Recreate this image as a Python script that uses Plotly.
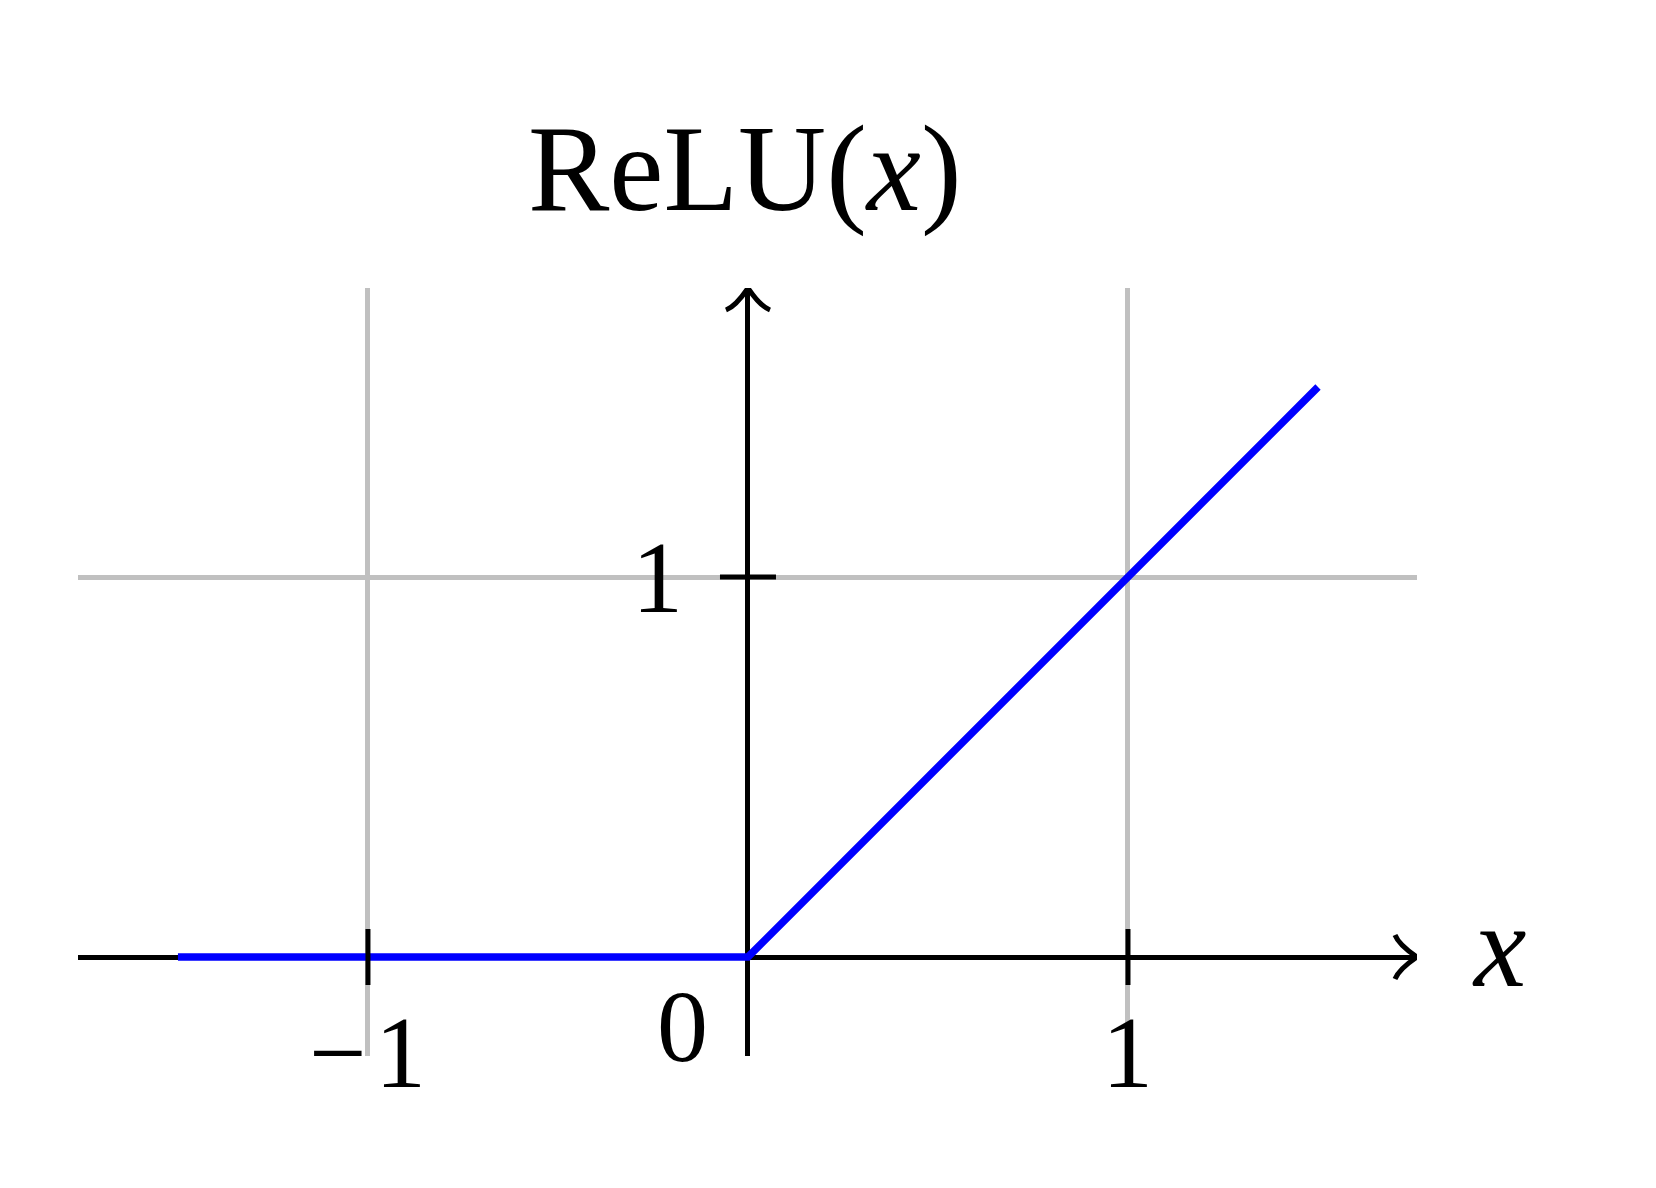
import plotly.graph_objects as go

# data
x_vals = [-1.5, 0.0, 1.5]
relu_vals = [0.0, 0.0, 1.5]
x_ticks = [-1, 1]
x_tick_labels = ["−\u200a1", "1"]
y_ticks = [1]
y_tick_labels = ["1"]

W, H = 1656, 1188
ML, MR, MT, MB = 70, 247, 280, 140
XR = [-1.763, 1.7605]
YR = [-0.2605, 1.7605]
px_x = (W - ML - MR) / (XR[1] - XR[0])
px_y = (H - MT - MB) / (YR[1] - YR[0])

FONT = "Liberation Serif"
LW = 5

fig = go.Figure()
fig.add_trace(go.Scatter(x=x_vals, y=relu_vals, mode="lines",
                         line=dict(color="#0000ff", width=7.5), hoverinfo="skip"))

shapes = []
tk = 28
for t in x_ticks:
    shapes.append(dict(type="line", x0=t, x1=t, y0=-tk / px_y, y1=tk / px_y,
                       line=dict(color="black", width=LW)))
for t in y_ticks:
    shapes.append(dict(type="line", y0=t, y1=t, x0=-tk / px_x, x1=tk / px_x,
                       line=dict(color="black", width=LW)))

# arrowheads (curved, LaTeX style)
L, Wd = 22, 22
def P(dx, dy, ox, oy):
    return f"{ox + dx / px_x},{oy + dy / px_y}"
tx, ty = XR[1], 0.0
path_x = ("M " + P(-L, Wd, tx, ty) + " C " + P(-L + 4, Wd - 10, tx, ty) + " " +
          P(-3, 2, tx, ty) + " " + P(0, 0, tx, ty) +
          " C " + P(-3, -2, tx, ty) + " " + P(-L + 4, -Wd + 10, tx, ty) + " " + P(-L, -Wd, tx, ty))
shapes.append(dict(type="path", path=path_x, line=dict(color="black", width=LW)))
ux, uy = 0.0, YR[1]
path_y = ("M " + P(-Wd, -L, ux, uy) + " C " + P(-Wd + 10, -L + 4, ux, uy) + " " +
          P(-2, -3, ux, uy) + " " + P(0, 0, ux, uy) +
          " C " + P(2, -3, ux, uy) + " " + P(Wd - 10, -L + 4, ux, uy) + " " + P(Wd, -L, ux, uy))
shapes.append(dict(type="path", path=path_y, line=dict(color="black", width=LW)))

ann = []
tf = dict(family=FONT, size=102, color="black")
for t, lab in zip(x_ticks, x_tick_labels):
    ann.append(dict(x=t, y=-0.25, text=lab, showarrow=False, font=tf,
                    xanchor="center", yanchor="middle"))
for t, lab in zip(y_ticks, y_tick_labels):
    ann.append(dict(x=-0.237, y=t, text=lab, showarrow=False, font=tf,
                    xanchor="center", yanchor="middle"))
ann.append(dict(x=-0.171, y=-0.184, text="0", showarrow=False, font=tf,
                xanchor="center", yanchor="middle"))
ann.append(dict(xref="paper", yref="paper", x=1.0612, y=0.143, text="<i>x</i>",
                showarrow=False, font=dict(family=FONT, size=118, color="black"),
                xanchor="center", yanchor="middle"))
ann.append(dict(xref="paper", yref="paper", x=0.498, y=1.155, text="ReLU(<i>x</i>)",
                showarrow=False, font=dict(family=FONT, size=122, color="black"),
                xanchor="center", yanchor="middle"))

fig.update_layout(
    width=W, height=H,
    margin=dict(l=ML, r=MR, t=MT, b=MB, pad=0),
    paper_bgcolor="white", plot_bgcolor="white",
    showlegend=False,
    shapes=shapes, annotations=ann,
    xaxis=dict(range=XR, tickvals=x_ticks, showticklabels=False, ticks="",
               showgrid=True, gridcolor="#c0c0c0", gridwidth=LW,
               zeroline=True, zerolinecolor="black", zerolinewidth=LW,
               showline=False, fixedrange=True),
    yaxis=dict(range=YR, tickvals=y_ticks, showticklabels=False, ticks="",
               showgrid=True, gridcolor="#c0c0c0", gridwidth=LW,
               zeroline=True, zerolinecolor="black", zerolinewidth=LW,
               showline=False, fixedrange=True),
)

fig.write_html("out.html")
